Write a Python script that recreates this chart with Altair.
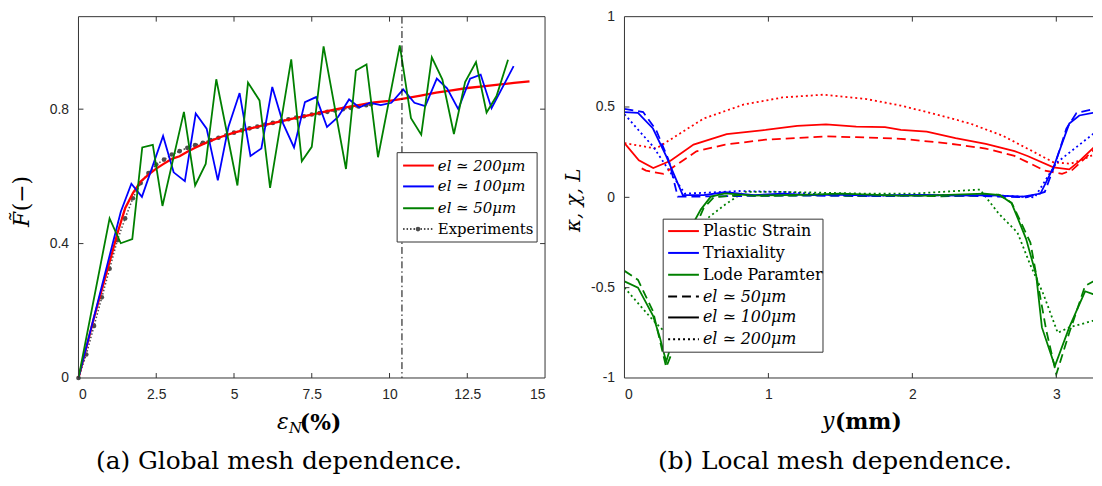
import altair as alt
import pandas as pd

# ---------------- (a) Global mesh dependence ----------------
A_RED_X = [0, 0.5, 1.0, 1.25, 1.5, 1.75, 2.0, 2.25, 2.5, 2.75, 3.0, 3.25, 3.5, 3.75, 4.0, 4.5, 5.0, 5.5,
           6.0, 6.5, 7.0, 7.5, 8.0, 8.5, 9.0, 9.5, 10.0, 10.5, 11.0, 11.5, 12.0, 12.5, 13.0, 13.5, 14.0, 14.5]
A_RED_Y = [0, 0.18, 0.345, 0.43, 0.505, 0.55, 0.585, 0.605, 0.623, 0.638, 0.652, 0.66, 0.673, 0.685, 0.696,
           0.715, 0.73, 0.742, 0.753, 0.764, 0.774, 0.784, 0.794, 0.804, 0.812, 0.82, 0.825, 0.832, 0.84,
           0.849, 0.856, 0.863, 0.868, 0.873, 0.878, 0.883]
A_BLUE_X = [0, 1.36, 1.7, 2.04, 2.72, 3.06, 3.42, 3.77, 4.12, 4.48, 4.82, 5.18, 5.53, 5.88, 6.23, 6.58, 6.93,
            7.28, 7.64, 7.99, 8.34, 8.7, 9.03, 9.37, 9.72, 10.06, 10.44, 10.8, 11.15, 11.52, 11.85, 12.21,
            12.59, 12.93, 13.28, 13.99]
A_BLUE_Y = [0, 0.495, 0.578, 0.539, 0.72, 0.612, 0.586, 0.787, 0.742, 0.588, 0.747, 0.848, 0.661, 0.683,
            0.866, 0.757, 0.686, 0.821, 0.836, 0.747, 0.776, 0.829, 0.805, 0.819, 0.812, 0.819, 0.859, 0.819,
            0.809, 0.891, 0.862, 0.8, 0.891, 0.903, 0.803, 0.928]
A_GREEN_X = [0, 1.0, 1.36, 1.73, 2.05, 2.39, 2.7, 3.39, 3.75, 4.09, 4.43, 5.11, 5.45, 5.82, 6.16, 6.84, 7.18,
             7.5, 7.88, 8.6, 8.92, 9.26, 9.63, 10.33, 10.69, 11.02, 11.36, 11.7, 12.07, 12.43, 12.78, 13.12,
             13.44, 13.81]
A_GREEN_Y = [0, 0.475, 0.401, 0.413, 0.686, 0.694, 0.512, 0.792, 0.573, 0.637, 0.889, 0.573, 0.879, 0.826,
             0.566, 0.948, 0.645, 0.688, 0.987, 0.622, 0.915, 0.933, 0.657, 0.99, 0.773, 0.724, 0.954, 0.888,
             0.726, 0.881, 0.94, 0.79, 0.839, 0.947]
A_EXP_X = [0, 0.25, 0.5, 0.75, 1.0, 1.25, 1.5, 1.75, 2.0, 2.25, 2.5, 2.75, 3.0, 3.25, 3.5, 3.75, 4.0, 4.25,
           4.5, 4.75, 5.0, 5.25, 5.5, 5.75, 6.0, 6.25, 6.5, 6.75, 7.0, 7.25, 7.5, 7.75, 8.0, 8.25, 8.5, 8.75,
           9.0, 9.25, 9.4]
A_EXP_Y = [0, 0.07, 0.155, 0.24, 0.325, 0.41, 0.475, 0.535, 0.58, 0.61, 0.635, 0.65, 0.665, 0.675, 0.685,
           0.693, 0.7, 0.708, 0.715, 0.722, 0.73, 0.737, 0.743, 0.748, 0.754, 0.759, 0.764, 0.77, 0.775,
           0.779, 0.784, 0.788, 0.792, 0.796, 0.8, 0.804, 0.808, 0.812, 0.815]
A_VLINE = [10.4]
A_XTICKS = [0, 2.5, 5, 7.5, 10, 12.5, 15]
A_YTICKS = [0, 0.4, 0.8]
A_LEGEND = ["el \u2243 200\u03bcm", "el \u2243 100\u03bcm", "el \u2243 50\u03bcm", "Experiments"]
A_CAPTION = "(a) Global mesh dependence."

# ---------------- (b) Local mesh dependence ----------------
B_RS_X = [0, 0.1, 0.2, 0.32, 0.48, 0.71, 0.98, 1.2, 1.4, 1.61, 1.81, 1.92, 2.1, 2.3, 2.51, 2.71, 2.8, 2.98,
          3.09, 3.16, 3.27]
B_RS_Y = [0.30, 0.205, 0.162, 0.202, 0.292, 0.35, 0.373, 0.396, 0.404, 0.391, 0.388, 0.373, 0.364, 0.328,
          0.296, 0.256, 0.229, 0.166, 0.155, 0.2, 0.283]
B_RD_X = [0.12, 0.15, 0.27, 0.5, 0.7, 0.98, 1.4, 1.61, 1.92, 2.16, 2.31, 2.51, 2.71, 2.92, 3.04, 3.11, 3.18,
          3.27]
B_RD_Y = [0.16, 0.148, 0.13, 0.255, 0.292, 0.319, 0.337, 0.333, 0.324, 0.306, 0.292, 0.27, 0.229, 0.148,
          0.13, 0.151, 0.202, 0.27]
B_RT_X = [0, 0.22, 0.55, 0.83, 1.1, 1.38, 1.68, 1.92, 2.16, 2.4, 2.63, 2.83, 2.98, 3.1, 3.2, 3.27]
B_RT_Y = [0.30, 0.27, 0.436, 0.514, 0.553, 0.568, 0.544, 0.508, 0.46, 0.409, 0.34, 0.257, 0.194, 0.186,
          0.215, 0.24]
B_BS_X = [0, 0.094, 0.198, 0.29, 0.405, 0.55, 0.7, 0.9, 1.1, 1.3, 1.5, 1.7, 1.9, 2.1, 2.3, 2.5, 2.77, 2.89,
          2.98, 3.09, 3.16, 3.27]
B_BS_Y = [0.472, 0.468, 0.381, 0.228, 0.012, 0.012, 0.028, 0.012, 0.02, 0.012, 0.015, 0.01, 0.012, 0.014,
          0.01, 0.012, 0.004, 0.021, 0.165, 0.408, 0.453, 0.47]
B_BD_X = [0, 0.13, 0.22, 0.31, 0.37, 0.6, 0.9, 1.2, 1.5, 1.8, 2.1, 2.4, 2.79, 2.92, 2.99, 3.07, 3.14, 3.27]
B_BD_Y = [0.49, 0.472, 0.373, 0.2, 0.004, 0.005, 0.008, 0.01, 0.008, 0.006, 0.01, 0.008, 0.0, 0.03, 0.18,
          0.38, 0.467, 0.49]
B_BT_X = [0, 0.1, 0.2, 0.3, 0.42, 0.8, 1.1, 1.4, 1.7, 2.0, 2.3, 2.6, 2.85, 3.0, 3.27]
B_BT_Y = [0.46, 0.37, 0.28, 0.16, 0.02, 0.035, 0.03, 0.015, 0.01, 0.01, 0.012, 0.01, 0.0, 0.19, 0.36]
B_GS_X = [0, 0.094, 0.198, 0.244, 0.29, 0.35, 0.4, 0.45, 0.48, 0.53, 0.6, 0.7, 0.9, 1.1, 1.3, 1.5, 1.7, 1.9,
          2.1, 2.3, 2.5, 2.61, 2.69, 2.79, 2.86, 2.9, 2.99, 3.09, 3.2, 3.27]
B_GS_Y = [-0.465, -0.5, -0.654, -0.77, -0.91, -0.75, -0.5, -0.25, -0.14, -0.068, 0.004, 0.022, 0.01, 0.012,
          0.015, 0.02, 0.015, 0.01, 0.01, 0.015, 0.02, 0.012, -0.033, -0.23, -0.43, -0.72, -0.934, -0.72,
          -0.52, -0.54]
B_GD_X = [0, 0.094, 0.198, 0.29, 0.33, 0.4, 0.45, 0.5, 0.55, 0.62, 0.8, 1.0, 1.2, 1.4, 1.6, 1.8, 2.0, 2.2,
          2.4, 2.6, 2.69, 2.82, 2.93, 3.0, 3.09, 3.2, 3.27]
B_GD_Y = [-0.407, -0.457, -0.63, -0.94, -0.86, -0.55, -0.3, -0.15, -0.06, 0.0, 0.012, 0.008, 0.01, 0.012,
          0.008, 0.01, 0.012, 0.005, 0.01, 0.015, -0.03, -0.25, -0.735, -0.98, -0.75, -0.49, -0.46]
B_GT_X = [0, 0.198, 0.3, 0.38, 0.45, 0.52, 0.57, 0.7, 0.83, 1.1, 1.4, 1.7, 2.0, 2.2, 2.47, 2.6, 2.73, 2.82,
          2.91, 3.01, 3.09, 3.27]
B_GT_Y = [-0.5, -0.68, -0.76, -0.6, -0.35, -0.2, -0.12, -0.04, 0.03, 0.03, 0.025, 0.02, 0.02, 0.03, 0.043,
          -0.09, -0.195, -0.375, -0.535, -0.75, -0.72, -0.68]
B_XTICKS = [0, 1, 2, 3]
B_YTICKS = [-1, -0.5, 0, 0.5, 1]
B_LEGEND = ["Plastic Strain", "Triaxiality", "Lode Paramter",
            "el \u2243 50\u03bcm", "el \u2243 100\u03bcm", "el \u2243 200\u03bcm"]
B_CAPTION = "(b) Local mesh dependence."

# ---------------- styling ----------------
RED, BLUE, GREEN, GREY = "#ff0000", "#0000ff", "#008000", "#4d4d4d"
FRAME = "#333333"
SERIF = "DejaVu Serif"
SANS = "Liberation Sans"
W_L, W_R, H = 470, 472, 364
Y_TOP_L = 1.0753
X_MAX_R = 3.255
DASH, DOT = [9, 5], [2, 3]
ONE = pd.DataFrame({"k": [0]})


def scales(xdom, ydom, xt, yt):
    xs = alt.Scale(domain=xdom, nice=False, zero=False)
    ys = alt.Scale(domain=ydom, nice=False, zero=False)
    ax = alt.Axis(values=xt, labelExpr="''+datum.value", title=None, labelPadding=10)
    ay = alt.Axis(values=yt, labelExpr="''+datum.value", title=None, labelPadding=10)
    X = lambda f: alt.X(f"{f}:Q", scale=xs, axis=ax)
    Y = lambda f: alt.Y(f"{f}:Q", scale=ys, axis=ay)
    return X, Y


def series(xv, yv, X, Y, color, width=1.8, dash=None, clip=False, point=None):
    df = pd.DataFrame({"x": xv, "y": yv, "o": list(range(len(xv)))})
    kw = dict(color=color, strokeWidth=width, clip=clip)
    if dash:
        kw["strokeDash"] = dash
    if point:
        kw["point"] = point
    return alt.Chart(df).mark_line(**kw).encode(x=X("x"), y=Y("y"), order="o:Q")


def txt(s, x, y, size=16, style="normal", weight="normal", align="left", baseline="middle", angle=0):
    kw = dict(font=SERIF, fontSize=size, fontStyle=style, fontWeight=weight, align=align,
              baseline=baseline, color="black")
    if angle:
        kw["angle"] = angle
    return alt.Chart(pd.DataFrame({"t": [s]})).mark_text(**kw).encode(
        x=alt.value(x), y=alt.value(y), text="t:N")


def seg(x1, x2, y1, y2, color=FRAME, width=1, dash=None, opacity=1):
    kw = dict(color=color, strokeWidth=width, opacity=opacity)
    if dash:
        kw["strokeDash"] = dash
    return alt.Chart(ONE).mark_rule(**kw).encode(
        x=alt.value(x1), x2=alt.value(x2), y=alt.value(y1), y2=alt.value(y2))


def inner_ticks(X, Y, xt, yt, W, right=True):
    layers = []
    dx = pd.DataFrame({"t": xt})
    dy = pd.DataFrame({"t": yt})
    layers.append(alt.Chart(dx).mark_rule(color=FRAME).encode(x=X("t"), y=alt.value(H), y2=alt.value(H - 5)))
    layers.append(alt.Chart(dx).mark_rule(color=FRAME).encode(x=X("t"), y=alt.value(0), y2=alt.value(5)))
    layers.append(alt.Chart(dy).mark_rule(color=FRAME).encode(y=Y("t"), x=alt.value(0), x2=alt.value(5)))
    if right:
        layers.append(alt.Chart(dy).mark_rule(color=FRAME).encode(y=Y("t"), x=alt.value(W - 5), x2=alt.value(W)))
    return layers


# ---------------- panel (a) ----------------
XL, YL = scales([0, 15], [0, Y_TOP_L], A_XTICKS, A_YTICKS)
left_layers = [
    series(A_EXP_X, A_EXP_Y, XL, YL, GREY, width=1.6, dash=[1.5, 2],
           point=alt.OverlayMarkDef(filled=True, size=22, color=GREY)),
    series(A_RED_X, A_RED_Y, XL, YL, RED, width=2.3),
    series(A_BLUE_X, A_BLUE_Y, XL, YL, BLUE, width=1.8),
    series(A_GREEN_X, A_GREEN_Y, XL, YL, GREEN, width=1.8),
    alt.Chart(pd.DataFrame({"x": A_VLINE})).mark_rule(color="black", strokeWidth=1,
                                                      strokeDash=[7, 3, 1.5, 3]).encode(x=XL("x")),
    alt.Chart(ONE).mark_rect(fillOpacity=0, stroke=FRAME, strokeWidth=1).encode(
        x=alt.value(0), x2=alt.value(W_L), y=alt.value(0), y2=alt.value(H)),
]
left_layers += inner_ticks(XL, YL, A_XTICKS[1:-1], A_YTICKS[1:], W_L)
# legend (a)
left_layers.append(alt.Chart(ONE).mark_rect(fill="white", stroke=FRAME, strokeWidth=1).encode(
    x=alt.value(321), x2=alt.value(462), y=alt.value(137), y2=alt.value(227)))
for lab, yy, col, dash in zip(A_LEGEND, [150, 171, 193, 214], [RED, BLUE, GREEN, GREY],
                              [None, None, None, [1.5, 2]]):
    left_layers.append(seg(327, 358, yy, yy, color=col, width=2, dash=dash))
    left_layers.append(txt(lab, 362, yy, size=15,
                           style="normal" if lab == "Experiments" else "italic"))
left_layers.append(alt.Chart(ONE).mark_point(filled=True, size=22, color=GREY, opacity=1).encode(
    x=alt.value(342), y=alt.value(214)))
# axis titles (a)
left_layers += [
    txt("F\u0303", -57, 212, size=22, style="italic", angle=270),
    txt("(\u2212)", -57, 196, size=22, angle=270),
    txt("\u03b5", 200, 415, size=22, style="italic", baseline="alphabetic"),
    txt("N", 212, 419, size=15, style="italic", baseline="alphabetic"),
    txt("(%)", 223, 416, size=22, weight="bold", baseline="alphabetic"),
    txt(A_CAPTION, 202, 456, size=25, align="center", baseline="alphabetic"),
    seg(-71, -70, -7, -6, opacity=0),
    seg(477.5, 478.5, -7, -6, opacity=0),
]
left = alt.layer(*left_layers).properties(width=W_L, height=H)

# ---------------- panel (b) ----------------
XR, YR = scales([0, X_MAX_R], [-1, 1], B_XTICKS, B_YTICKS)
right_layers = []
for xv, yv, col in [(B_RT_X, B_RT_Y, RED), (B_BT_X, B_BT_Y, BLUE), (B_GT_X, B_GT_Y, GREEN)]:
    right_layers.append(series(xv, yv, XR, YR, col, width=1.8, dash=DOT, clip=True))
for xv, yv, col in [(B_RD_X, B_RD_Y, RED), (B_BD_X, B_BD_Y, BLUE), (B_GD_X, B_GD_Y, GREEN)]:
    right_layers.append(series(xv, yv, XR, YR, col, width=1.8, dash=DASH, clip=True))
for xv, yv, col in [(B_RS_X, B_RS_Y, RED), (B_BS_X, B_BS_Y, BLUE), (B_GS_X, B_GS_Y, GREEN)]:
    right_layers.append(series(xv, yv, XR, YR, col, width=1.8, clip=True))
right_layers += [
    seg(0, W_R, 0, 0), seg(0, W_R, H, H), seg(0, 0, 0, H),
]
right_layers += inner_ticks(XR, YR, B_XTICKS[1:], B_YTICKS[1:-1], W_R, right=False)
right_layers.append(alt.Chart(ONE).mark_rect(fill="white", stroke=FRAME, strokeWidth=1).encode(
    x=alt.value(39), x2=alt.value(200), y=alt.value(204), y2=alt.value(338)))
for lab, yy, col, dash in zip(B_LEGEND, [216, 238, 260, 282, 303, 325],
                              [RED, BLUE, GREEN, "black", "black", "black"],
                              [None, None, None, DASH, None, DOT]):
    right_layers.append(seg(44, 75, yy, yy, color=col, width=2, dash=dash))
    right_layers.append(txt(lab, 79, yy, size=16, style="italic" if lab.startswith("el") else "normal"))
right_layers += [
    txt("\u03ba, \u03c7, L", -51, 185, size=20, style="italic", align="center", angle=270),
    txt("y", 199, 414, size=22, style="italic", baseline="alphabetic"),
    txt("(mm)", 212, 415, size=22, weight="bold", baseline="alphabetic"),
    txt(B_CAPTION, 212, 456, size=25, align="center", baseline="alphabetic"),
    seg(-70.5, -69.5, -7, -6, opacity=0),
]
right = alt.layer(*right_layers).properties(width=W_R, height=H)

chart = alt.hconcat(left, right, spacing=0).properties(padding=0).configure_view(
    stroke=None).configure_axis(
    labelFont=SANS, labelFontSize=14, labelColor="#262626", domain=False, ticks=False, tickSize=0,
    grid=False).configure_concat(spacing=0)

chart.save("out.html", embed_options={"renderer": "svg", "actions": False})
